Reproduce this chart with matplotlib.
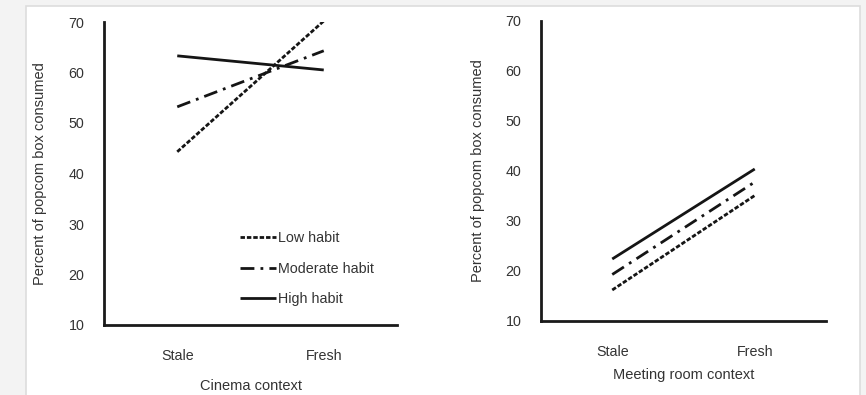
import matplotlib.pyplot as plt
from matplotlib.patches import Rectangle

plt.rcParams["font.family"] = ["Liberation Sans", "DejaVu Sans"]

conditions = ["Stale", "Fresh"]
habit_labels = ["Low habit", "Moderate habit", "High habit"]

# Percent of popcorn box consumed, cinema context
cinema_low = [44.3, 70.2]
cinema_moderate = [53.2, 64.3]
cinema_high = [63.3, 60.5]

# Percent of popcorn box consumed, meeting room context
meeting_low = [16.2, 35.1]
meeting_moderate = [19.3, 37.8]
meeting_high = [22.4, 40.4]

y_ticks = [10, 20, 30, 40, 50, 60, 70]

text_color = "#333333"
line_styles = [(0, (1.6, 0.7)), (0, (5, 2.2, 1, 2.2)), "-"]


def draw_panel(ax, series, xlabel, xlabel_y, legend=False):
    x = list(range(len(conditions)))
    for values, label, ls in zip(series, habit_labels, line_styles):
        ax.plot(x, values, color="#151515", linestyle=ls, linewidth=2.0,
                label=label, solid_capstyle="butt", dash_capstyle="butt")

    ax.set_xlim(-0.5, 1.5)
    ax.set_ylim(10, 70)
    ax.set_xticks(x)
    ax.set_xticklabels(conditions)
    ax.set_yticks(y_ticks)
    ax.tick_params(axis="both", length=0, labelsize=10.3, labelcolor=text_color)
    ax.tick_params(axis="x", pad=17)
    ax.tick_params(axis="y", pad=14)

    for side in ["top", "right"]:
        ax.spines[side].set_visible(False)
    for side in ["left", "bottom"]:
        ax.spines[side].set_linewidth(2.0)
        ax.spines[side].set_color("#1a1a1a")

    ax.set_ylabel("Percent of popcom box consumed", fontsize=10.5, color=text_color)
    ax.yaxis.set_label_coords(-0.195, 0.5)
    ax.set_xlabel(xlabel, fontsize=10.5, color=text_color)
    ax.xaxis.set_label_coords(0.5, xlabel_y)
    ax.patch.set_visible(False)

    if legend:
        ax.legend(loc="upper left", bbox_to_anchor=(0.464, 0.31), frameon=False,
                  borderpad=0, borderaxespad=0, handlelength=2.5,
                  handletextpad=0.15, labelspacing=1.15, fontsize=10.3,
                  labelcolor=text_color)


fig = plt.figure(figsize=(8.66, 3.95), dpi=100, facecolor="#f3f3f3")
panel = Rectangle((26 / 866, -0.1), 834 / 866, 1.1 - 6 / 395,
                  transform=fig.transFigure, facecolor="white",
                  edgecolor="#dddddd", linewidth=1.2, zorder=-10)
fig.add_artist(panel)

ax1 = fig.add_axes([104 / 866, 1 - 325 / 395, 293 / 866, 303 / 395])
ax2 = fig.add_axes([541 / 866, 1 - 321 / 395, 285 / 866, 300 / 395])

draw_panel(ax1, [cinema_low, cinema_moderate, cinema_high], "Cinema context", -0.178, legend=True)
draw_panel(ax2, [meeting_low, meeting_moderate, meeting_high], "Meeting room context", -0.155)

fig.savefig("out.png", dpi=100, facecolor=fig.get_facecolor())
